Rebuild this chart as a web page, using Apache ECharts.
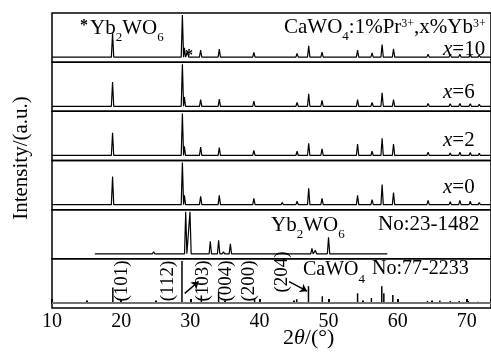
<!DOCTYPE html>
<html lang="en">
<head>
    <meta charset="UTF-8">
    <title>XRD</title>
    <script src="https://cdn.jsdelivr.net/npm/echarts@6/dist/echarts.min.js"></script>
</head>
<style>
    html, body { margin: 0; padding: 0; background: #fff; }
    #container { width: 491px; height: 353px; }
</style>
<body>
<div id="container"></div>
<script>
    // CaWO4 peak positions (2theta) used by the doped samples
    var caPeaks = [18.76, 28.86, 29.15, 31.5, 34.2, 39.2, 43.3, 45.45, 47.13, 49.06, 52.9, 54.2, 56.3, 57.75, 59.4, 64.4, 66.1, 67.6, 69.0, 70.5, 71.8];
    var hX0  = [67, 100, 22, 20, 22, 15, 5, 8, 39, 15, 3, 22, 12, 48, 29, 10, 4, 7, 10, 8, 5];
    var hX2  = [54, 100, 22, 20, 19, 12, 4, 10, 29, 16, 3, 27, 10, 41, 27, 8, 4, 6, 8, 7, 5];
    var hX6  = [58, 100, 22, 16, 17, 12, 4, 9, 30, 14, 3, 16, 9, 32, 16, 7, 4, 6, 7, 6, 5];
    var hX10 = [57, 100, 22, 17, 19, 11, 4, 9, 27, 12, 3, 17, 10, 30, 20, 7, 4, 7, 7, 6, 5];
    // extra Yb2WO6 peak seen in x=10 (marked *)
    var impPeak = [29.6];
    var impH = [12];

    // Yb2WO6 standard (No:23-1482)
    var ybPos = [16.4, 18.0, 19.5, 21.2, 23.6, 24.0, 24.7, 25.7, 26.4, 27.2, 28.6, 29.34, 29.96, 31.2, 32.2, 32.9, 34.1, 34.8, 35.8, 38.7, 40.6, 42.3, 43.8, 44.7, 46.2, 47.6, 48.1, 50.0, 51.2, 52.7, 54.1, 55.6, 56.8, 58.2];
    var ybH   = [1, 1, 1, 2, 2, 2, 5, 2, 3, 2, 3, 100, 100, 2, 4, 30, 32, 5, 24, 2, 2, 2, 3, 2, 3, 13, 8, 39, 3, 4, 3, 2, 3, 3];

    // CaWO4 standard sticks (No:77-2233)
    var stickPos = [18.8, 28.8, 31.6, 34.1, 39.3, 45.4, 47.1, 49.1, 54.2, 56.2, 57.7, 58.0, 59.3, 64.3, 66.1, 67.6, 68.9, 70.2, 71.6];
    var stickH   = [37, 100, 18, 26, 9, 9, 40, 16, 23, 12, 40, 23, 19, 5, 6, 5, 5, 5, 3];

    var xMin = 10, xMax = 73.5;
    var serif = 'Liberation Serif';

    // build a line trace: baseline with a narrow peak at every position
    function pattern(pos, h, start, end) {
        var pairs = pos.map(function (p, i) { return [p, h[i]]; });
        pairs.sort(function (a, b) { return a[0] - b[0]; });
        var pts = [[start, 0]];
        pairs.forEach(function (q) {
            pts.push([q[0] - 0.17, 0], [q[0], q[1]], [q[0] + 0.17, 0]);
        });
        pts.push([end, 0]);
        return pts;
    }

    var chart = echarts.init(document.getElementById('container'));

    var top0 = 13, ph = 49.17;
    var grids = [], xAxes = [], yAxes = [];
    for (var i = 0; i < 6; i++) {
        grids.push({
            left: 52, right: -3, top: top0 + i * ph, height: ph,
            show: true, borderColor: '#000', borderWidth: 1.5
        });
        xAxes.push({
            gridIndex: i, type: 'value', min: xMin, max: xMax, interval: 10,
            show: i === 5,
            axisLine: {lineStyle: {color: '#000', width: 2}},
            axisTick: {inside: true, length: 4, lineStyle: {width: 2, color: '#000'}},
            minorTick: {show: true, splitNumber: 2, length: 2.5, lineStyle: {width: 2, color: '#000'}},
            splitLine: {show: false},
            axisLabel: {
                color: '#000', fontFamily: serif, fontSize: 20, margin: 4, showMaxLabel: false,
                formatter: function (v) { return v % 10 === 0 ? v : ''; }
            }
        });
        yAxes.push({gridIndex: i, type: 'value', min: -12, max: 105, show: false});
    }

    var lineBase = {type: 'line', showSymbol: false, silent: true,
        lineStyle: {color: '#000', width: 1.2}};

    var series = [
        Object.assign({}, lineBase, {xAxisIndex: 0, yAxisIndex: 0,
            data: pattern(caPeaks.concat(impPeak), hX10.concat(impH), xMin, xMax)}),
        Object.assign({}, lineBase, {xAxisIndex: 1, yAxisIndex: 1, data: pattern(caPeaks, hX6, xMin, xMax)}),
        Object.assign({}, lineBase, {xAxisIndex: 2, yAxisIndex: 2, data: pattern(caPeaks, hX2, xMin, xMax)}),
        Object.assign({}, lineBase, {xAxisIndex: 3, yAxisIndex: 3, data: pattern(caPeaks, hX0, xMin, xMax)}),
        Object.assign({}, lineBase, {xAxisIndex: 4, yAxisIndex: 4, data: pattern(ybPos, ybH, 16.2, 58.5)}),
        {
            type: 'bar', xAxisIndex: 5, yAxisIndex: 5, barWidth: 1.5, silent: true,
            itemStyle: {color: '#000'},
            data: stickPos.map(function (p, i) { return [p, stickH[i]]; }),
            markLine: {
                silent: true, animation: false,
                symbol: ['none', 'none'],
                label: {show: false},
                lineStyle: {color: '#999', width: 1.5, type: 'solid'},
                data: [
                    [{coord: [xMin, 0]}, {coord: [xMax, 0]}]
                ]
            }
        },
        {
            type: 'line', xAxisIndex: 5, yAxisIndex: 5, data: [], silent: true,
            markLine: {
                silent: true, animation: false,
                symbol: ['none', 'arrow'], symbolSize: 7,
                label: {show: false},
                lineStyle: {color: '#000', width: 1.5, type: 'solid'},
                data: [
                    [{coord: [29.2, 23]}, {coord: [31.2, 51]}],
                    [{coord: [44.3, 51]}, {coord: [46.9, 28]}]
                ]
            }
        }
    ];

    function txt(x, y, text, fs, opts) {
        var st = Object.assign({
            text: text, fill: '#000', font: fs + 'px "Liberation Serif"',
            textAlign: 'left', textVerticalAlign: 'middle',
            rich: {
                n: {fontFamily: serif, fontSize: fs},
                i: {fontFamily: serif, fontSize: fs, fontStyle: 'italic'},
                sub: {fontFamily: serif, fontSize: 13, padding: [19, 0, 0, 0]},
                sup: {fontFamily: serif, fontSize: 12, padding: [0, 0, 6, 0]},
                star: {fontFamily: serif, fontSize: 16, fontWeight: 'bold', padding: [0, 2, 4, 0]}
            }
        }, opts || {});
        return {type: 'text', x: x, y: y, style: st, z: 100, silent: true};
    }

    var graphic = [
        txt(80, 28, '{star|*}{n|Yb}{sub|2}{n|WO}{sub|6}', 21),
        txt(284, 27, '{n|CaWO}{sub|4}{n|:1%Pr}{sup|3+}{n|,x%Yb}{sup|3+}', 21),
        txt(443, 49, '{i|x}{n|=10}', 21),
        txt(443, 92, '{i|x}{n|=6}', 21),
        txt(443, 140, '{i|x}{n|=2}', 21),
        txt(443, 187, '{i|x}{n|=0}', 21),
        txt(271, 225, '{n|Yb}{sub|2}{n|WO}{sub|6}', 21),
        txt(378, 224, '{n|No:23-1482}', 21),
        txt(303, 270, '{n|CaWO}{sub|4}', 20),
        txt(372, 269, '{n|No:77-2233}', 20),
        txt(190, 58, '{star|*}', 21, {textAlign: 'center'}),
        txt(283, 338, '{n|2}{i|θ}{n|/(°)}', 22),
        {type: 'text', x: 21, y: 158, rotation: Math.PI / 2, silent: true,
            style: {text: 'Intensity/(a.u.)', fill: '#000', font: '21px "Liberation Serif"',
                textAlign: 'center', textVerticalAlign: 'middle'}}
    ];
    // rotated (hkl) labels in the CaWO4 panel
    var hkl = [['(101)', 122, 281], ['(112)', 168, 281], ['(103)', 203, 281], ['(004)', 226, 281], ['(200)', 249, 281], ['(204)', 282, 272]];
    hkl.forEach(function (h) {
        graphic.push({type: 'text', x: h[1], y: h[2], rotation: Math.PI / 2, silent: true, z: 100,
            style: {text: h[0], fill: '#000', font: '19px "Liberation Serif"',
                textAlign: 'center', textVerticalAlign: 'middle'}});
    });

    var option = {
        animation: false,
        backgroundColor: '#fff',
        grid: grids,
        xAxis: xAxes,
        yAxis: yAxes,
        series: series,
        graphic: graphic
    };

    chart.setOption(option);
</script>
</body>
</html>
